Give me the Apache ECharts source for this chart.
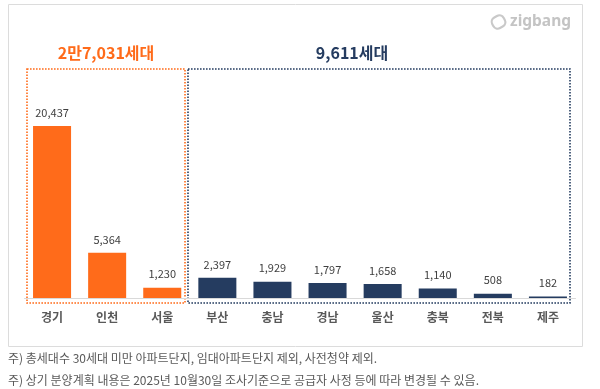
<!DOCTYPE html>
<html><head><meta charset="utf-8">
<script src="https://cdn.jsdelivr.net/npm/echarts@6/dist/echarts.min.js"></script>
<style>html,body{margin:0;padding:0;background:#fff}#c{width:600px;height:389px}</style>
</head><body><div id="c"></div>
<script>
const categories = ['경기','인천','서울','부산','충남','경남','울산','충북','전북','제주'];
const values = [20437,5364,1230,2397,1929,1797,1658,1140,508,182];
const groupTitles = ['2만7,031세대','9,611세대'];
const notes = ['주) 총세대수 30세대 미만 아파트단지, 임대아파트단지 제외, 사전청약 제외.',
               '주) 상기 분양계획 내용은 2025년 10월30일 조사기준으로 공급자 사정 등에 따라 변경될 수 있음.'];
const ORANGE = '#FF6B1A', NAVY = '#253C60';
const FONT = '"Noto Sans CJK KR", "Noto Sans", sans-serif';
const chart = echarts.init(document.getElementById('c'));
chart.setOption({
  animation: false,
  textStyle: {fontFamily: FONT},
  grid: {left: 24.5, right: 24.5, top: 96, bottom: 91},
  xAxis: {type: 'category', data: categories,
    axisLine: {lineStyle: {color: '#d9d9d9'}}, axisTick: {show: false},
    axisLabel: {color: '#595959', fontSize: 12, fontWeight: 'bold', margin: 13, fontFamily: FONT}},
  yAxis: {type: 'value', min: 0, max: 24000, show: false, splitLine: {show: false}},
  series: [{type: 'bar', barWidth: '69%',
    data: values.map((v, i) => ({value: v, itemStyle: {color: i < 3 ? ORANGE : NAVY}})),
    label: {show: true, position: 'top', distance: 8, color: '#404040', fontSize: 11, fontFamily: FONT,
      formatter: p => p.value.toLocaleString('en-US')}}],
  graphic: [
    {type: 'rect', shape: {x: 8.5, y: 4.5, width: 574, height: 342}, style: {fill: 'none', stroke: '#dcdcdc', lineWidth: 1}, silent: true},
    {type: 'rect', shape: {x: 27, y: 69, width: 158, height: 234}, style: {fill: 'none', stroke: ORANGE, lineWidth: 1.6, lineDash: [1.6, 1.4]}},
    {type: 'rect', shape: {x: 188, y: 69, width: 382, height: 234}, style: {fill: 'none', stroke: NAVY, lineWidth: 1.6, lineDash: [1.6, 1.4]}},
    {type: 'text', x: 106, y: 53, style: {text: groupTitles[0], fill: ORANGE, font: 'bold 16px ' + FONT, textAlign: 'center', textVerticalAlign: 'middle'}},
    {type: 'text', x: 352, y: 53, style: {text: groupTitles[1], fill: NAVY, font: 'bold 16px ' + FONT, textAlign: 'center', textVerticalAlign: 'middle'}},
    {type: 'rect', shape: {x: 492, y: 16, width: 13, height: 12, r: 5}, rotation: 0.5, originX: 498.5, originY: 22, style: {fill: 'none', stroke: '#c9c9c9', lineWidth: 2.2}},
    {type: 'text', x: 510, y: 22, style: {text: 'zigbang', fill: '#c4c4c4', font: 'bold 15.5px "Noto Sans", sans-serif', textVerticalAlign: 'middle'}},
    {type: 'text', x: 8, y: 358, style: {text: notes[0], fill: '#595959', font: '12px ' + FONT, textVerticalAlign: 'middle'}},
    {type: 'text', x: 8, y: 380, style: {text: notes[1], fill: '#595959', font: '12px ' + FONT, textVerticalAlign: 'middle'}}
  ]
});
</script></body></html>
